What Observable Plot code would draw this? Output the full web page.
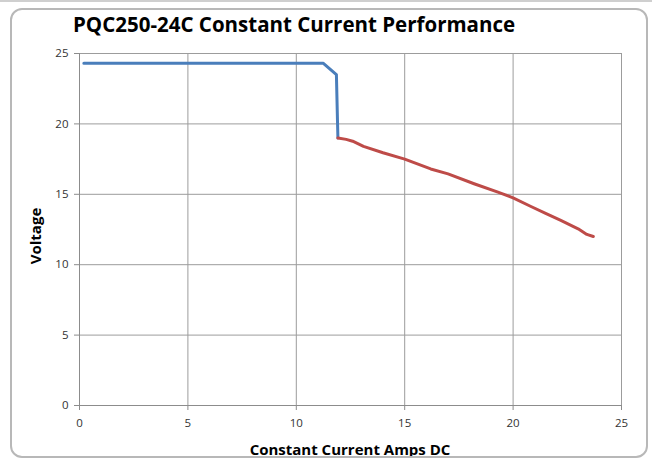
<!DOCTYPE html>
<html><head><meta charset="utf-8">
<script src="https://cdn.jsdelivr.net/npm/d3@7"></script>
<script src="https://cdn.jsdelivr.net/npm/@observablehq/plot@0.6"></script>
<style>
body{margin:0;background:#fff;}
#wrap{position:relative;width:652px;height:462px;overflow:hidden;background:#fff}
#border{position:absolute;left:10px;top:8px;width:634px;height:446px;border:2px solid #b8b8b8;border-radius:12px;pointer-events:none}
#topline{position:absolute;left:0;top:0;width:652px;height:2px;background:#cfcfcf}
#chart{position:absolute;left:0;top:0}
</style>
</head><body>
<div id="wrap"><div id="topline"></div><div id="chart"></div><div id="border"></div></div>
<script>
const titleText = "PQC250-24C Constant Current Performance";
const xLabel = "Constant Current Amps DC";
const yLabel = "Voltage";
const tickValues = [0, 5, 10, 15, 20, 25];
const blueAmps  = [0.2, 11.25, 11.85, 11.9, 11.92];
const blueVolts = [24.3, 24.3, 23.5, 20.2, 19.0];
const redAmps  = [11.92, 12.3, 12.6, 13.1, 14.0, 15.0, 16.2, 17.0, 18.2, 19.3, 20.0, 20.8, 21.5, 22.2, 23.0, 23.4, 23.7];
const redVolts = [19.0, 18.9, 18.77, 18.4, 17.95, 17.5, 16.8, 16.45, 15.75, 15.15, 14.75, 14.15, 13.65, 13.15, 12.55, 12.15, 12.0];

const blue = blueAmps.map((a, i) => ({a, v: blueVolts[i]}));
const red = redAmps.map((a, i) => ({a, v: redVolts[i]}));

const font = "'Open Sans', Lato, sans-serif";
const plot = Plot.plot({
  width: 652, height: 462,
  marginTop: 53, marginLeft: 79, marginRight: 31, marginBottom: 57,
  style: {background: "transparent", fontFamily: font, fontSize: "11.5px", color: "#333"},
  x: {domain: [0, 25]},
  y: {domain: [0, 25]},
  marks: [
    Plot.gridX(tickValues, {stroke: "#9c9c9c", strokeOpacity: 1}),
    Plot.gridY(tickValues, {stroke: "#9c9c9c", strokeOpacity: 1}),
    Plot.ruleX([0], {stroke: "#8c8c8c"}),
    Plot.ruleY([0], {stroke: "#8c8c8c"}),
    Plot.axisX(tickValues, {tickSize: 5, tickPadding: 8, label: null, stroke: "#8c8c8c", fill: "#333", fontSize: 11.5}),
    Plot.axisY(tickValues, {tickSize: 5, tickPadding: 6, label: null, stroke: "#8c8c8c", fill: "#333", fontSize: 11.5}),
    Plot.line(blue, {x: "a", y: "v", stroke: "#4a7ebb", strokeWidth: 3, strokeLinejoin: "round"}),
    Plot.line(red, {x: "a", y: "v", stroke: "#be4b48", strokeWidth: 3, strokeLinejoin: "round"})
  ]
});
document.getElementById("chart").appendChild(plot);
const svg = d3.select(plot);
svg.append("text").attr("x", 73).attr("y", 32).attr("text-anchor", "start")
  .attr("font-family", font).attr("font-size", 20.5).attr("font-weight", "bold").attr("fill", "#000")
  .text(titleText);
svg.append("text").attr("x", 350).attr("y", 455).attr("text-anchor", "middle")
  .attr("font-family", font).attr("font-size", 15).attr("font-weight", "bold").attr("fill", "#000")
  .text(xLabel);
svg.append("text").attr("transform", "translate(41,236) rotate(-90)").attr("text-anchor", "middle")
  .attr("font-family", font).attr("font-size", 15).attr("font-weight", "bold").attr("fill", "#000")
  .text(yLabel);
</script>
</body></html>
